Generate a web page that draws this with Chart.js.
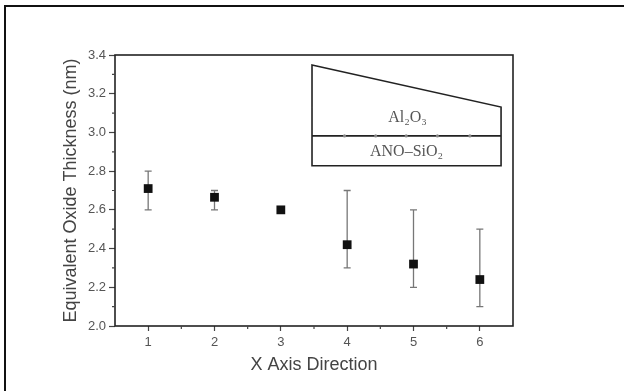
<!DOCTYPE html>
<html>
<head>
<meta charset="utf-8">
<script src="https://cdn.jsdelivr.net/npm/chart.js@4/dist/chart.umd.min.js"></script>
<style>
  body { margin: 0; background: #fff; }
  #myChart { display: block; }
</style>
</head>
<body>
<canvas id="myChart" width="624" height="391"></canvas>
<script>
// data
const positions = [1, 2, 3, 4, 5, 6];
const eotValues = [2.71, 2.665, 2.60, 2.42, 2.32, 2.24];
const errUpper = [2.80, 2.70, 2.605, 2.70, 2.60, 2.50];
const errLower = [2.60, 2.60, 2.595, 2.30, 2.20, 2.10];
const yTicks = [2.0, 2.2, 2.4, 2.6, 2.8, 3.0, 3.2, 3.4];
const xTicks = [1, 2, 3, 4, 5, 6];

// inset sketch of the stack, in data units
const insetTop = [[3.47, 3.348], [6.32, 3.131]];
const insetMid = 2.982;
const insetBottom = 2.828;
const insetDots = [3.96, 4.43, 4.89, 5.36, 5.85];

let points = [];
positions.forEach((x, i) => {
    points.push({ x: x, y: eotValues[i] });
});

// draws error bars, minor ticks, frame and inset
const extras = {
    id: 'extras',
    beforeDatasetsDraw(chart) {
        const ctx = chart.ctx;
        const xs = chart.scales.x;
        const ys = chart.scales.y;
        ctx.save();
        ctx.strokeStyle = '#777';
        ctx.lineWidth = 1.3;
        positions.forEach((x, i) => {
            const px = xs.getPixelForValue(x);
            const top = ys.getPixelForValue(errUpper[i]);
            const bot = ys.getPixelForValue(errLower[i]);
            ctx.beginPath();
            ctx.moveTo(px, top); ctx.lineTo(px, bot);
            ctx.moveTo(px - 3.5, top); ctx.lineTo(px + 3.5, top);
            ctx.moveTo(px - 3.5, bot); ctx.lineTo(px + 3.5, bot);
            ctx.stroke();
        });
        ctx.restore();
    },
    afterDraw(chart) {
        const ctx = chart.ctx;
        const xs = chart.scales.x;
        const ys = chart.scales.y;
        const a = chart.chartArea;
        ctx.save();

        // box round the plot
        ctx.strokeStyle = '#222';
        ctx.lineWidth = 1.6;
        ctx.strokeRect(a.left, a.top, a.right - a.left, a.bottom - a.top);

        // minor ticks
        ctx.lineWidth = 1.2;
        ctx.strokeStyle = '#444';
        ctx.beginPath();
        for (let v = 2.1; v < 3.4; v += 0.2) {
            const py = ys.getPixelForValue(v);
            ctx.moveTo(a.left - 3, py); ctx.lineTo(a.left, py);
        }
        for (let v = 1.5; v < 6.5; v += 1) {
            const px = xs.getPixelForValue(v);
            ctx.moveTo(px, a.bottom); ctx.lineTo(px, a.bottom + 3);
        }
        ctx.stroke();

        // inset
        const L = xs.getPixelForValue(insetTop[0][0]);
        const R = xs.getPixelForValue(insetTop[1][0]);
        const tl = ys.getPixelForValue(insetTop[0][1]);
        const tr = ys.getPixelForValue(insetTop[1][1]);
        const mid = ys.getPixelForValue(insetMid);
        const bot = ys.getPixelForValue(insetBottom);
        ctx.strokeStyle = '#222';
        ctx.lineWidth = 1.6;
        ctx.beginPath();
        ctx.moveTo(L, tl); ctx.lineTo(R, tr); ctx.lineTo(R, bot);
        ctx.lineTo(L, bot); ctx.closePath();
        ctx.moveTo(L, mid); ctx.lineTo(R, mid);
        ctx.stroke();
        ctx.fillStyle = '#888';
        insetDots.forEach(d => {
            ctx.beginPath();
            ctx.arc(xs.getPixelForValue(d), mid, 1.6, 0, Math.PI * 2);
            ctx.fill();
        });
        ctx.fillStyle = '#555';
        ctx.font = '16px "Liberation Serif"';
        ctx.textAlign = 'center';
        ctx.textBaseline = 'middle';
        const cx = (L + R) / 2;
        ctx.fillText('Al\u2082O\u2083', cx + 1, 118);
        ctx.fillText('ANO\u2013SiO\u2082', cx, (mid + bot) / 2 + 1);

        // outer frame of the figure
        ctx.fillStyle = '#111';
        ctx.fillRect(4, 5, 624, 2);
        ctx.fillRect(4, 5, 2, 391);
        ctx.restore();
    }
};

const ctx = document.getElementById('myChart').getContext('2d');
const myChart = new Chart(ctx, {
    type: 'scatter',
    data: {
        datasets: [{
            data: points,
            pointStyle: 'rect',
            pointRadius: 6.2,
            pointHoverRadius: 6.2,
            backgroundColor: '#111',
            borderColor: '#111',
            borderWidth: 0
        }]
    },
    options: {
        responsive: false,
        animation: false,
        layout: {
            padding: { left: 60, right: 111, top: 55, bottom: 15 }
        },
        plugins: {
            legend: { display: false },
            tooltip: { enabled: false }
        },
        scales: {
            x: {
                type: 'linear',
                min: 0.5,
                max: 6.5,
                afterBuildTicks: axis => {
                    axis.ticks = xTicks.map(v => ({ value: v }));
                },
                afterFit: axis => { axis.height = 50; },
                grid: { drawOnChartArea: false, tickLength: 5, tickColor: '#444', tickWidth: 1.2 },
                border: { display: false },
                ticks: {
                    color: '#555',
                    font: { family: 'Liberation Sans', size: 13 },
                    padding: 4
                },
                title: {
                    display: true,
                    text: 'X Axis Direction',
                    color: '#444',
                    font: { family: 'Liberation Sans', size: 18 },
                    padding: { top: 0, bottom: 0 }
                }
            },
            y: {
                min: 2.0,
                max: 3.4,
                afterBuildTicks: axis => {
                    axis.ticks = yTicks.map(v => ({ value: v }));
                },
                afterFit: axis => { axis.width = 55; },
                grid: { drawOnChartArea: false, tickLength: 6, tickColor: '#444', tickWidth: 1.2 },
                border: { display: false },
                ticks: {
                    color: '#555',
                    font: { family: 'Liberation Sans', size: 13 },
                    padding: 3,
                    callback: v => v.toFixed(1)
                },
                title: {
                    display: true,
                    text: 'Equivalent Oxide Thickness (nm)',
                    color: '#444',
                    font: { family: 'Liberation Sans', size: 18 },
                    padding: { top: 0, bottom: 0 }
                }
            }
        }
    },
    plugins: [extras]
});
</script>
</body>
</html>
